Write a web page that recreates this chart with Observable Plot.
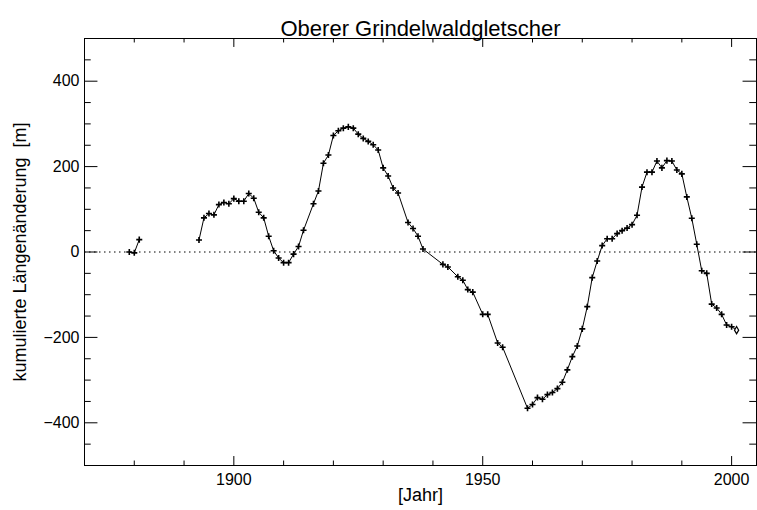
<!DOCTYPE html>
<html><head><meta charset="utf-8">
<script src="https://cdn.jsdelivr.net/npm/d3@7"></script>
<script src="https://cdn.jsdelivr.net/npm/@observablehq/plot@0.6"></script>
<style>body{margin:0;background:#fff}</style>
</head><body><div id="chart"></div>
<script>
const title = "Oberer Grindelwaldgletscher";
const xLabel = "[Jahr]";
const yLabel = "kumulierte Längenänderung  [m]";

// first (short) series
const years1 = [1879, 1880, 1881];
const values1 = [0, -2, 29];

// main series
const years2 = [1893,1894,1895,1896,1897,1898,1899,1900,1901,1902,1903,1904,1905,1906,1907,1908,1909,1910,1911,1912,1913,1914,1916,1917,1918,1919,1920,1921,1922,1923,1924,1925,1926,1927,1928,1929,1930,1931,1932,1933,1935,1936,1937,1938,1942,1943,1945,1946,1947,1948,1950,1951,1953,1954,1959,1960,1961,1962,1963,1964,1965,1966,1967,1968,1969,1970,1971,1972,1973,1974,1975,1976,1977,1978,1979,1980,1981,1982,1983,1984,1985,1986,1987,1988,1989,1990,1991,1992,1993,1994,1995,1996,1997,1998,1999,2000,2001];
const values2 = [28,80,90,87,111,116,113,125,119,119,137,126,93,80,37,3,-14,-25,-25,-5,13,51,113,143,208,227,273,284,290,293,290,276,266,259,251,239,197,178,150,138,69,55,37,7,-29,-35,-58,-66,-88,-94,-146,-146,-213,-223,-366,-357,-341,-345,-334,-329,-320,-305,-276,-245,-220,-180,-128,-60,-21,15,31,31,43,50,56,64,86,152,187,187,213,197,214,213,192,183,129,79,18,-44,-50,-122,-131,-146,-171,-175,-183];

const xTicks = [1900, 1950, 2000];
const xMinorTicks = [1880, 1890, 1910, 1920, 1930, 1940, 1960, 1970, 1980, 1990];
const yTicks = [-400, -200, 0, 200, 400];
const yMinorTicks = [-450, -350, -300, -250, -150, -100, -50, 50, 100, 150, 250, 300, 350, 450];

const xDomain = [1870, 2005];
const yDomain = [-500, 500];

const s1 = years1.map((y, i) => ({year: y, value: values1[i]}));
const s2 = years2.map((y, i) => ({year: y, value: values2[i]}));
const allPts = s1.concat(s2);
const lastPt = allPts.slice(-1);
const plusPts = allPts.slice(0, -1);

// tick lengths in data units (IDL style inward ticks)
const xMaj = 21, xMin = 10.5, yMaj = 2.7, yMin = 1.35;

const chart = Plot.plot({
  width: 757,
  height: 510,
  marginLeft: 84,
  marginRight: 1,
  marginTop: 38,
  marginBottom: 45,
  style: {fontFamily: "'Liberation Sans', Arial, Helvetica, sans-serif", fontSize: "16px", background: "#fff", color: "#000"},
  x: {domain: xDomain, label: null},
  y: {domain: yDomain, label: null},
  marks: [
    Plot.ruleY([0], {strokeDasharray: "1.5,3.5", stroke: "#000", strokeWidth: 1}),
    Plot.frame({stroke: "#000", strokeWidth: 1}),
    // inward ticks
    Plot.ruleX(xTicks, {x: d => d, y1: yDomain[0], y2: yDomain[0] + xMaj, stroke: "#000"}),
    Plot.ruleX(xTicks, {x: d => d, y1: yDomain[1], y2: yDomain[1] - xMaj, stroke: "#000"}),
    Plot.ruleX(xMinorTicks, {x: d => d, y1: yDomain[0], y2: yDomain[0] + xMin, stroke: "#000"}),
    Plot.ruleX(xMinorTicks, {x: d => d, y1: yDomain[1], y2: yDomain[1] - xMin, stroke: "#000"}),
    Plot.ruleY(yTicks, {y: d => d, x1: xDomain[0], x2: xDomain[0] + yMaj, stroke: "#000"}),
    Plot.ruleY(yTicks, {y: d => d, x1: xDomain[1], x2: xDomain[1] - yMaj, stroke: "#000"}),
    Plot.ruleY(yMinorTicks, {y: d => d, x1: xDomain[0], x2: xDomain[0] + yMin, stroke: "#000"}),
    Plot.ruleY(yMinorTicks, {y: d => d, x1: xDomain[1], x2: xDomain[1] - yMin, stroke: "#000"}),
    Plot.axisX(xTicks, {tickSize: 0, tickPadding: 8, tickFormat: d => String(d), label: null, fontSize: 16}),
    Plot.axisY(yTicks, {tickSize: 0, tickPadding: 5, label: null, fontSize: 16}),
    // data
    Plot.line(s1, {x: "year", y: "value", stroke: "#000", strokeWidth: 1}),
    Plot.line(s2, {x: "year", y: "value", stroke: "#000", strokeWidth: 1}),
    Plot.dot(plusPts, {x: "year", y: "value", symbol: "plus", r: 2.1, stroke: "#000", strokeWidth: 1.6}),
    Plot.dot(lastPt, {x: "year", y: "value", symbol: "diamond", r: 2.2, stroke: "#000", strokeWidth: 1.2, fill: "#fff"}),
    // titles
    Plot.text([title], {text: d => d, frameAnchor: "top", dy: -18, fontSize: 22}),
    Plot.text([xLabel], {text: d => d, frameAnchor: "bottom", dy: 35, fontSize: 18}),
    Plot.text([yLabel], {text: d => d, frameAnchor: "left", textAnchor: "middle", dx: -64, rotate: -90, fontSize: 18})
  ]
});
document.getElementById("chart").appendChild(chart);
</script>
</body></html>
